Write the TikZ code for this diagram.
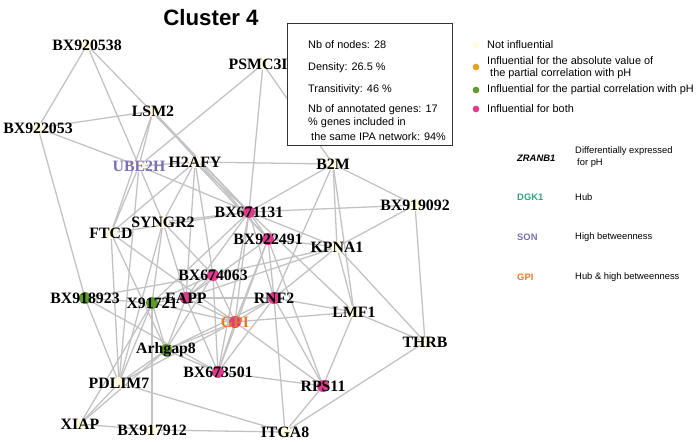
\documentclass[tikz,border=0pt]{standalone}
\usepackage{fontspec}
\setmainfont{Liberation Serif}
\setsansfont{Liberation Sans}
\usepackage{tikz}
\usetikzlibrary{backgrounds}
\definecolor{cEdge}{HTML}{C2C2C2}
\definecolor{cBoth}{HTML}{DE3A8C}
\definecolor{cPart}{HTML}{5E9A2E}
\definecolor{cAbs}{HTML}{E0A41E}
\definecolor{cNone}{HTML}{FFFCE0}
\definecolor{cBetw}{HTML}{7A70B4}
\definecolor{cHubBetw}{HTML}{E57A2C}
\definecolor{cHub}{HTML}{2FA57C}

\begin{document}
\begin{tikzpicture}[x=0.03cm, y=-0.03cm,
  gene/.style={circle, inner sep=0pt, minimum size=0.36cm, fill=#1},
  none/.style={gene=cNone},
  both/.style={gene=cBoth},
  part/.style={gene=cPart},
  lbl/.style={font=\bfseries\fontsize{13.5}{14}\selectfont, inner sep=0pt},
  edge/.style={draw=cEdge, line width=1.1pt},
  leg/.style={font=\sffamily\fontsize{9.3}{10}\selectfont, anchor=west, inner sep=0pt},
  legs/.style={font=\sffamily\fontsize{8}{9}\selectfont, anchor=west, inner sep=0pt},
  legdot/.style={circle, inner sep=0pt, minimum size=0.2cm, fill=#1}
]
  \useasboundingbox (0,0) rectangle (698,441);

  \node[font=\sffamily\bfseries\fontsize{19}{20}\selectfont] (title) at (211,18) {Cluster 4};

  % genes
  \node[none, label={[lbl]center:BX920538}] (bx920538) at (87,45) {};
  \node[none, label={[lbl]center:PSMC3IP}] (psmc) at (263,64) {};
  \node[none, label={[lbl]center:LSM2}] (lsm) at (153,111) {};
  \node[none, label={[lbl]center:BX922053}] (bx922053) at (38,128) {};
  \node[none, label={[lbl,text=cBetw]center:UBE2H}] (ube) at (139,166) {};
  \node[none, label={[lbl]center:H2AFY}] (h2afy) at (195,162) {};
  \node[none, label={[lbl]center:B2M}] (b2m) at (333,164) {};
  \node[none, label={[lbl]center:BX919092}] (bx919092) at (415,205) {};
  \node[both, label={[lbl]center:BX671131}] (bx671131) at (249,212) {};
  \node[none, label={[lbl]center:SYNGR2}] (syngr) at (163,222) {};
  \node[none, label={[lbl]center:FTCD}] (ftcd) at (111,233) {};
  \node[both, label={[lbl]center:BX922491}] (bx922491) at (268,239) {};
  \node[none, label={[lbl]center:KPNA1}] (kpna) at (337,247) {};
  \node[both, label={[lbl]center:BX674063}] (bx674063) at (213,275) {};
  \node[part, label={[lbl]center:BX918923}] (bx918923) at (85,298) {};
  \node[part, label={[lbl]center:X91721}] (x917) at (152,303) {};
  \node[both, label={[lbl]center:EAPP}] (eapp) at (186,298) {};
  \node[both, label={[lbl]center:RNF2}] (rnf) at (274,298) {};
  \node[both, label={[lbl,text=cHubBetw]center:GPI}] (gpi) at (235,322) {};
  \node[none, label={[lbl]center:LMF1}] (lmf) at (354,312) {};
  \node[none, label={[lbl]center:THRB}] (thrb) at (425,342) {};
  \node[part, label={[lbl]center:Arhgap8}] (arh) at (166,350) {};
  \node[none, label={[lbl]center:PDLIM7}] (pdlim) at (119,383) {};
  \node[both, label={[lbl]center:BX673501}] (bx673501) at (218,372) {};
  \node[both, label={[lbl]center:RPS11}] (rps) at (323,386) {};
  \node[none, label={[lbl]center:XIAP}] (xiap) at (80,424) {};
  \node[none, label={[lbl]center:BX917912}] (bx917912) at (152,430) {};
  \node[none, label={[lbl]center:ITGA8}] (itga) at (285,432) {};

  % interactions
  \begin{scope}[on background layer]
    \foreach \a/\b in {bx920538/bx922053, bx920538/ube, bx920538/bx671131,
        bx922053/lsm, bx922053/ube, bx922053/bx918923, bx918923/pdlim,
        lsm/ube, lsm/ftcd, lsm/bx671131, lsm/bx922491,
        psmc/ube, psmc/bx671131, psmc/b2m,
        ube/h2afy, ube/bx671131, ube/syngr, ube/ftcd, ube/pdlim,
        h2afy/b2m, h2afy/bx671131, h2afy/bx922491, h2afy/syngr, h2afy/ftcd,
        h2afy/eapp, h2afy/bx674063,
        b2m/bx671131, b2m/bx919092, b2m/kpna, b2m/lmf, b2m/rnf,
        bx919092/bx671131, bx919092/kpna, bx919092/thrb,
        bx671131/syngr, bx671131/bx922491, bx671131/ftcd, bx671131/eapp,
        bx671131/x917, bx671131/gpi, bx671131/bx673501, bx671131/rnf,
        bx671131/lmf, bx671131/kpna,
        syngr/pdlim, syngr/x917, syngr/bx674063, syngr/eapp,
        ftcd/pdlim, ftcd/gpi, ftcd/arh,
        bx922491/kpna, bx922491/rnf, bx922491/gpi, bx922491/bx673501,
        bx922491/eapp, bx922491/rps,
        kpna/bx674063, kpna/eapp, kpna/lmf, kpna/thrb, kpna/rnf,
        bx674063/eapp, bx674063/x917, bx674063/arh, bx674063/gpi,
        bx674063/bx673501,
        bx918923/x917, bx918923/bx674063, bx918923/bx673501,
        x917/eapp, x917/gpi, x917/arh, x917/pdlim, x917/xiap, x917/bx917912,
        eapp/rnf, eapp/gpi, eapp/arh, eapp/bx673501,
        rnf/gpi, rnf/lmf, rnf/bx673501, rnf/rps, rnf/itga, rnf/arh,
        gpi/lmf, gpi/arh, gpi/bx673501, gpi/rps, gpi/pdlim,
        lmf/rps, lmf/thrb, thrb/itga,
        arh/pdlim, arh/xiap, arh/bx673501,
        pdlim/xiap, pdlim/itga, bx673501/rps, rps/itga,
        xiap/bx917912, bx917912/itga}
      \draw[edge] (\a.center) -- (\b.center);
  \end{scope}

  % statistics box
  \node[draw=black!80, line width=1.1pt, fill=white, minimum width=4.95cm,
        minimum height=3.66cm, anchor=north west] (stats) at (287,23) {};
  \node[leg] (nbnodes) at (308,45) {Nb of nodes: 28};
  \node[leg] (density) at (308,68) {Density: 26.5 \%};
  \node[leg] (trans) at (308,90) {Transitivity: 46 \%};
  \node[leg] (annot) at (308,110) {Nb of annotated genes: 17};
  \node[leg] (ipa1) at (308,123) {\% genes included in};
  \node[leg] (ipa2) at (311,137) {the same IPA network: 94\%};

  % node colour legend
  \node[legdot=cNone] (dnone) at (476,45) {};
  \node[leg] (tnone) at (487,45) {Not influential};
  \node[legdot=cAbs] (dabs) at (476,67) {};
  \node[leg] (tabs1) at (487,61) {Influential for the absolute value of};
  \node[leg] (tabs2) at (490,74) {the partial correlation with pH};
  \node[legdot=cPart] (dpart) at (476,90) {};
  \node[leg] (tpart) at (487,90) {Influential for the partial correlation with pH};
  \node[legdot=cBoth] (dboth) at (476,109) {};
  \node[leg] (tboth) at (487,109) {Influential for both};

  % label legend
  \node[legs, font=\sffamily\bfseries\itshape\fontsize{8}{9}\selectfont] (zranb) at (517,158) {ZRANB1};
  \node[legs] (tdiff1) at (575,151) {Differentially expressed};
  \node[legs] (tdiff2) at (577,163) {for pH};
  \node[legs, text=cHub, font=\sffamily\bfseries\fontsize{8}{9}\selectfont] (dgk) at (517,197) {DGK1};
  \node[legs] (thub) at (575,197) {Hub};
  \node[legs, text=cBetw, font=\sffamily\bfseries\fontsize{8}{9}\selectfont] (son) at (517,237) {SON};
  \node[legs] (tbetw) at (575,237) {High betweenness};
  \node[legs, text=cHubBetw, font=\sffamily\bfseries\fontsize{8}{9}\selectfont] (gpil) at (517,277) {GPI};
  \node[legs] (thubbetw) at (575,277) {Hub \& high betweenness};
\end{tikzpicture}
\end{document}
